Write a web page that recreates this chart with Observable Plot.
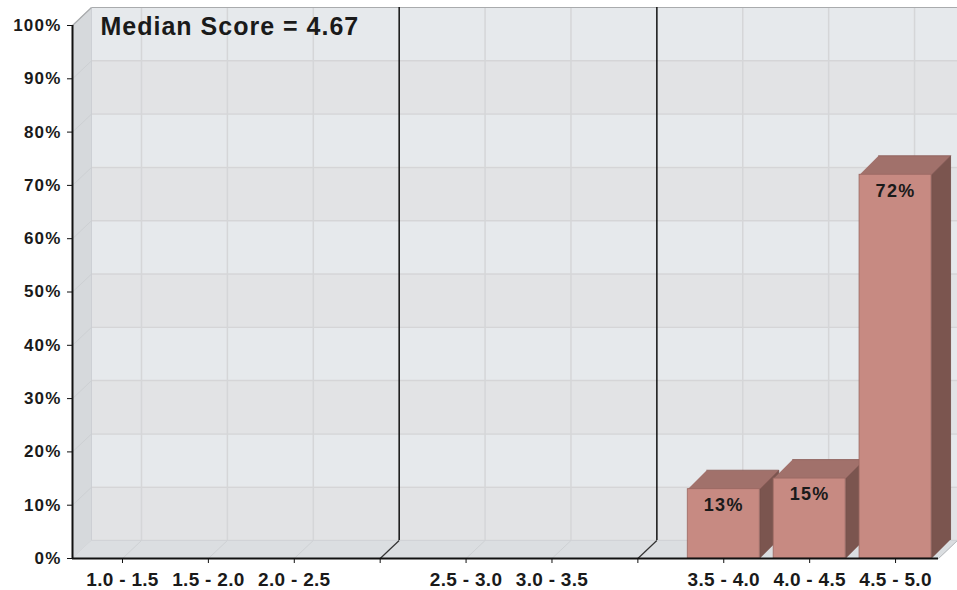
<!DOCTYPE html>
<html><head><meta charset="utf-8">
<script src="https://cdn.jsdelivr.net/npm/d3@7"></script>
<script src="https://cdn.jsdelivr.net/npm/@observablehq/plot@0.6"></script>
<style>
html,body{margin:0;padding:0;background:#fff;}
#chart svg{display:block;}
g[aria-label="y-axis tick label"] text{letter-spacing:1.2px;}
g[aria-label="x-axis tick label"] text{letter-spacing:0.3px;}
text[aria-label="title"]{letter-spacing:1px;}
text[aria-label="bar label"]{letter-spacing:1.3px;}
</style></head><body><div id="chart"></div>
<script>
// ---- data ----
const categories = ["1.0 - 1.5","1.5 - 2.0","2.0 - 2.5","2.5 - 3.0","3.0 - 3.5","3.5 - 4.0","4.0 - 4.5","4.5 - 5.0"];
const percents   = [0, 0, 0, 0, 0, 13, 15, 72];
const groups     = [0, 0, 0, 1, 1, 2, 2, 2];
const yTicks     = [0,10,20,30,40,50,60,70,80,90,100];
const medianScore = 4.67;

// ---- layout ----
const W = 957, H = 590, ML = 72, MR = 19, MT = 25, MB = 32;
const X0 = -0.582, X1 = 9.5;
const kx = (X1 - X0) / (W - ML - MR);   // data units per px (x)
const ky = 100 / (H - MT - MB);        // data units per px (y)
const ddx = 19 * kx, ddy = 18 * ky;    // wall depth
const bdx = 19 * kx, bdy = 19 * ky;    // bar depth
const hw = 36 * kx;                    // half bar width

const rows = categories.map((c, i) => ({cat: c, v: percents[i], g: groups[i], s: i + groups[i]}));
const catSlots = rows.map(d => d.s);
const sepSlots = d3.range(0, d3.max(groups)).map(g => d3.max(rows.filter(d => d.g === g), d => d.s) + 1);
const allSlots = [...catSlots, ...sepSlots].sort((a, b) => a - b);
const labelBySlot = new Map(rows.map(d => [d.s, d.cat]));

const bands = yTicks.slice(0, -1).map((t, i) => ({t, light: i % 2 === 1}));

const poly = (id, pts) => pts.map(([x, y]) => ({id, x, y}));
const leftWall = poly("left", [[X0,0],[X0,100],[X0+ddx,100+ddy],[X0+ddx,ddy]]);
const floor = poly("floor", [[X0,0],[X1,0],[X1+ddx,ddy],[X0+ddx,ddy]]);

const bars = rows.filter(d => d.v > 0);
const tops = bars.flatMap(d => poly(d.cat, [[d.s-hw,d.v],[d.s+hw,d.v],[d.s+hw+bdx,d.v+bdy],[d.s-hw+bdx,d.v+bdy]]));
const sides = bars.flatMap(d => poly(d.cat, [[d.s+hw,0],[d.s+hw,d.v],[d.s+hw+bdx,d.v+bdy],[d.s+hw+bdx,bdy]]));

const chart = Plot.plot({
  width: W, height: H,
  marginLeft: ML, marginRight: MR, marginTop: MT, marginBottom: MB,
  style: {fontFamily: "'Liberation Sans', Arial, sans-serif", color: "#1a1a1a", background: "#fff"},
  x: {type: "linear", domain: [X0, X1], axis: null},
  y: {domain: [0, 100], axis: null},
  marks: [
    // back wall
    Plot.rect(bands.filter(d => !d.light), {x1: X0+ddx, x2: X1+ddx, y1: d => d.t+ddy, y2: d => d.t+10+ddy, fill: "#e2e3e5"}),
    Plot.rect(bands.filter(d => d.light), {x1: X0+ddx, x2: X1+ddx, y1: d => d.t+ddy, y2: d => d.t+10+ddy, fill: "#e6e9ec"}),
    Plot.ruleY(yTicks.slice(0, -1), {y: d => d+ddy, x1: X0+ddx, x2: X1+ddx, stroke: "#d5d5d7", strokeWidth: 1.5}),
    Plot.ruleX(catSlots, {x: d => d+ddx, y1: ddy, y2: 100+ddy, stroke: "#d5d6d8", strokeWidth: 1.5}),
    Plot.ruleY([100+ddy], {x1: X0+ddx, x2: X1+ddx, stroke: "#a9abad", strokeWidth: 1.2}),
    // left wall
    Plot.line(leftWall, {x: "x", y: "y", z: "id", fill: "#d6d9dc", stroke: "#c9ccd0", strokeWidth: 0.8}),
    Plot.link(yTicks, {x1: X0, y1: d => d, x2: X0+ddx, y2: d => d+ddy, stroke: "#cdd0d3", strokeWidth: 1}),
    Plot.link([100], {x1: X0, y1: d => d, x2: X0+ddx, y2: d => d+ddy, stroke: "#a9abad", strokeWidth: 1.2}),
    // floor
    Plot.line(floor, {x: "x", y: "y", z: "id", fill: "#dbdee1", stroke: "#cfd2d5", strokeWidth: 0.8}),
    Plot.link(catSlots, {x1: d => d, y1: 0, x2: d => d+ddx, y2: ddy, stroke: "#ced1d4", strokeWidth: 1}),
    Plot.link([X1], {x1: d => d, y1: 0, x2: d => d+ddx, y2: ddy, stroke: "#b9bcbf", strokeWidth: 1}),
    // group separators
    Plot.ruleX(sepSlots, {x: d => d+ddx, y1: ddy, y2: 100+ddy, stroke: "#111", strokeWidth: 1.5}),
    Plot.link(sepSlots, {x1: d => d, y1: 0, x2: d => d+ddx, y2: ddy, stroke: "#333", strokeWidth: 1.2}),
    // bars
    Plot.line(sides, {x: "x", y: "y", z: "id", fill: "#7b554f", stroke: "#6e4a45", strokeWidth: 0.8}),
    Plot.line(tops, {x: "x", y: "y", z: "id", fill: "#a1716b", stroke: "#8a5c57", strokeWidth: 0.8}),
    Plot.rect(bars, {x1: d => d.s-hw, x2: d => d.s+hw, y1: 0, y2: "v", fill: "#c78a82", stroke: "#9a6862", strokeWidth: 0.8}),
    Plot.text(bars, {x: "s", y: "v", text: d => d.v + "%", lineAnchor: "top", dy: 9, fontSize: 18, fontWeight: "bold", fill: "#1a1a1a", ariaLabel: () => "bar label"}),
    // axes
    Plot.ruleX([X0], {y1: 0, y2: 100, stroke: "#111", strokeWidth: 2}),
    Plot.ruleY([0], {x1: X0, x2: X1, stroke: "#111", strokeWidth: 2}),
    Plot.axisY({ticks: yTicks, tickFormat: d => d + "%", tickSize: 5, tickPadding: 6, fontSize: 17, fontWeight: "bold", label: null, stroke: "#111"}),
    Plot.axisX({ticks: allSlots, tickFormat: s => labelBySlot.get(s) ?? "", tickSize: 5, tickPadding: 9, fontSize: 19, fontWeight: "bold", label: null, stroke: "#111"}),
    // title
    Plot.text([`Median Score = ${medianScore}`], {frameAnchor: "top-left", text: d => d, textAnchor: "start", lineAnchor: "top", dx: 28, dy: -8, fontSize: 25, fontWeight: "bold", fill: "#1a1a1a", ariaLabel: () => "title"})
  ]
});
document.getElementById("chart").append(chart);
</script></body></html>
